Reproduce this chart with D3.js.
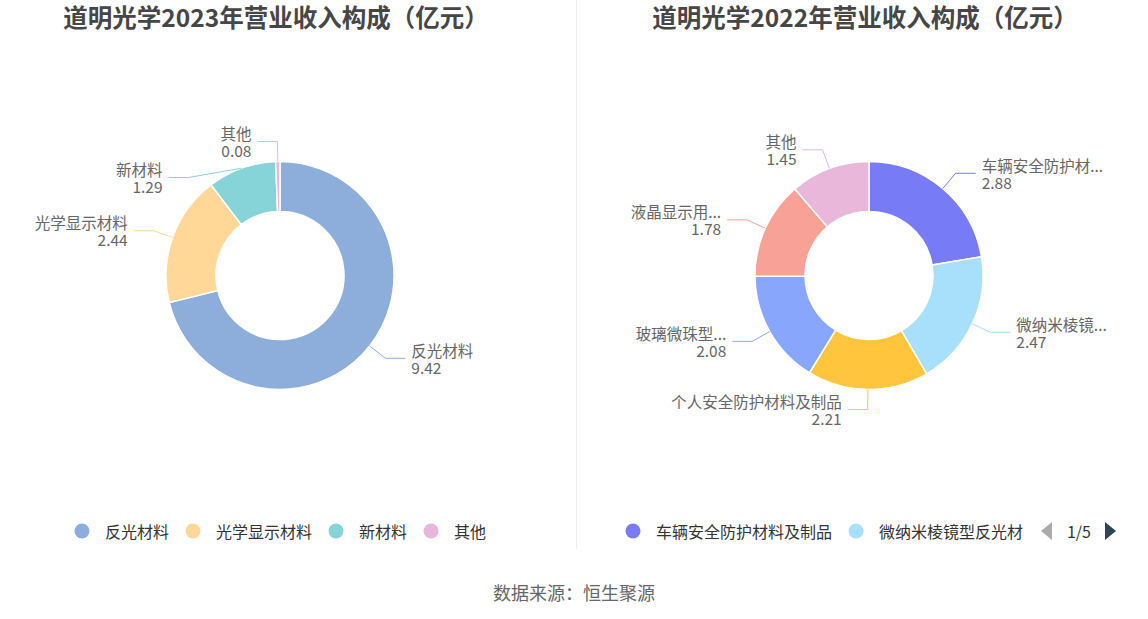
<!DOCTYPE html>
<html>
<head>
<meta charset="utf-8">
<script src="https://cdn.jsdelivr.net/npm/d3@7/dist/d3.min.js"></script>
<style>
  html, body { margin: 0; padding: 0; background: #fff; }
  svg { display: block; font-family: "Noto Sans CJK SC", "Noto Sans", sans-serif; }
</style>
</head>
<body>
<svg id="chart" width="1148" height="619"></svg>
<script>
// ---------- data ----------
const titles2023 = "道明光学2023年营业收入构成（亿元）";
const titles2022 = "道明光学2022年营业收入构成（亿元）";

const names2023 = ["反光材料", "光学显示材料", "新材料", "其他"];
const labels2023 = ["反光材料", "光学显示材料", "新材料", "其他"];
const values2023 = [9.42, 2.44, 1.29, 0.08];
const colors2023 = ["#8DADDB", "#FFD898", "#86D4D8", "#E8B6DA"];

const names2022 = ["车辆安全防护材料及制品", "微纳米棱镜型反光材料", "个人安全防护材料及制品", "玻璃微珠型反光材料", "液晶显示用材料", "其他"];
const labels2022 = ["车辆安全防护材...", "微纳米棱镜...", "个人安全防护材料及制品", "玻璃微珠型...", "液晶显示用...", "其他"];
const values2022 = [2.88, 2.47, 2.21, 2.08, 1.78, 1.45];
const colors2022 = ["#787BF6", "#A8DFFA", "#FFC53D", "#88A6FC", "#F8A197", "#E8B7D9"];

const legendPage2022 = "1/5";
const sourceText = "数据来源：恒生聚源";

// ---------- layout ----------
const W = 1148, H = 619;
const svg = d3.select("#chart");
const cy = 275.5, rOuter = 114, rInner = 64;
const len1 = 20, len2 = 20, labelGap = 36;
const labelFont = 15.5;

// divider
svg.append("line").attr("x1", 576.5).attr("x2", 576.5).attr("y1", 0).attr("y2", 549)
  .attr("stroke", "#eeeeee").attr("stroke-width", 1);

function drawDonut(cx, title, names, labels, values, colors) {
  const g = svg.append("g");
  g.append("text").attr("x", cx - 4).attr("y", 27).attr("text-anchor", "middle")
    .attr("font-size", 24.5).attr("font-weight", 700).attr("fill", "#464646").text(title);

  const pie = d3.pie().sort(null).value(d => d)(values);
  const arc = d3.arc().innerRadius(rInner).outerRadius(rOuter);
  const pg = g.append("g").attr("transform", `translate(${cx},${cy})`);
  pg.selectAll("path").data(pie).join("path")
    .attr("d", arc).attr("fill", (d, i) => colors[i])
    .attr("stroke", "#fff").attr("stroke-width", 1.5).attr("stroke-linejoin", "round");

  // label layout
  const R = rOuter + len1;
  const items = pie.map((d, i) => {
    const a = (d.startAngle + d.endAngle) / 2;
    const right = Math.sin(a) >= 0;
    return {
      i, a, right,
      ex: cx + rOuter * Math.sin(a), ey: cy - rOuter * Math.cos(a),
      x: cx + R * Math.sin(a), y: cy - R * Math.cos(a), moved: false
    };
  });
  [true, false].forEach(side => {
    const s = items.filter(d => d.right === side).sort((a, b) => a.y - b.y);
    for (let k = 1; k < s.length; k++) {
      if (s[k].y < s[k - 1].y + labelGap) { s[k].y = s[k - 1].y + labelGap; s[k].moved = true; }
    }
    s.forEach(d => {
      if (d.moved) {
        const dy = d.y - cy;
        const dx = Math.abs(dy) < R ? Math.sqrt(R * R - dy * dy) : 0;
        d.x = cx + (side ? dx : -dx);
      }
    });
  });
  items.forEach(d => {
    const endX = d.x + (d.right ? len2 : -len2);
    g.append("polyline")
      .attr("points", `${d.ex},${d.ey} ${d.x},${d.y} ${endX},${d.y}`)
      .attr("fill", "none").attr("stroke", colors[d.i]).attr("stroke-width", 1);
    const tx = endX + (d.right ? 6 : -6);
    const anchor = d.right ? "start" : "end";
    g.append("text").attr("x", tx).attr("y", d.y - 8.5).attr("dominant-baseline", "central")
      .attr("text-anchor", anchor).attr("font-size", labelFont).attr("fill", "#666").text(labels[d.i]);
    g.append("text").attr("x", tx).attr("y", d.y + 8.5).attr("dominant-baseline", "central")
      .attr("text-anchor", anchor).attr("font-size", labelFont).attr("fill", "#666").text(values[d.i].toFixed(2));
  });
  return g;
}

const cxL = 280, cxR = 869;
drawDonut(cxL, titles2023, names2023, labels2023, values2023, colors2023);
drawDonut(cxR, titles2022, names2022, labels2022, values2022, colors2022);

// ---------- legends ----------
const legendY = 531, legendFont = 16, iconToText = 23, itemGap = 24;
function measure(text) {
  const t = svg.append("text").attr("font-size", legendFont).text(text);
  const w = t.node().getComputedTextLength(); t.remove(); return w;
}
function legendItems(names, colors, startX, g, maxX) {
  let x = startX;
  for (let i = 0; i < names.length; i++) {
    if (x + iconToText >= maxX) break;
    let n = names[i];
    while (n.length > 1 && x + iconToText + measure(n) > maxX) n = n.slice(0, -1);
    g.append("circle").attr("cx", x).attr("cy", legendY).attr("r", 7.5).attr("fill", colors[i]);
    g.append("text").attr("x", x + iconToText).attr("y", legendY).attr("dominant-baseline", "central")
      .attr("font-size", legendFont).attr("fill", "#333").text(n);
    x = x + iconToText + measure(n) + itemGap;
  }
}
// left legend centered
const totalL = names2023.reduce((s, n) => s + iconToText + measure(n) + itemGap, 0) - itemGap + 8;
legendItems(names2023, colors2023, cxL - totalL / 2 + 8, svg.append("g"), 560);

// right legend (paged)
legendItems(names2022, colors2022, 633, svg.append("g"), 1030);
svg.append("path").attr("d", `M1052,${legendY - 9} L1041,${legendY} L1052,${legendY + 9} Z`).attr("fill", "#aaaaaa");
svg.append("text").attr("x", 1079).attr("y", legendY).attr("text-anchor", "middle")
  .attr("dominant-baseline", "central").attr("font-size", legendFont).attr("fill", "#333").text(legendPage2022);
svg.append("path").attr("d", `M1105,${legendY - 9} L1116,${legendY} L1105,${legendY + 9} Z`).attr("fill", "#2f4554");

// source
svg.append("text").attr("x", 574).attr("y", 592).attr("text-anchor", "middle")
  .attr("dominant-baseline", "central").attr("font-size", 18).attr("fill", "#666").text(sourceText);
</script>
</body>
</html>
